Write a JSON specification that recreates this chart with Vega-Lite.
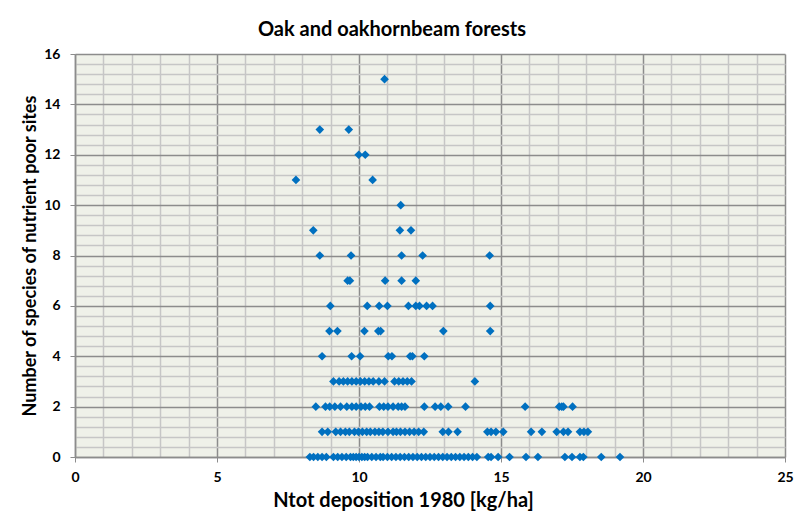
{
  "$schema": "https://vega.github.io/schema/vega-lite/v6.json",
  "width": 710,
  "height": 403,
  "autosize": {"type": "none"},
  "padding": {"left": 75, "top": 54, "right": 25, "bottom": 55},
  "background": "white",
  "title": {
    "text": "Oak and oakhornbeam forests",
    "font": "Lato",
    "fontSize": 20,
    "fontWeight": "bold",
    "color": "#000000",
    "anchor": "middle",
    "dx": -38,
    "offset": 7
  },
  "config": {
    "view": {"fill": "#eff1e9", "stroke": null},
    "axis": {"labelFont": "Lato", "titleFont": "Lato", "labelColor": "#000", "titleColor": "#000"}
  },
  "data": {
    "values": [
      {"dep": 10.9, "n": 15},
      {"dep": 8.62, "n": 13}, {"dep": 9.64, "n": 13},
      {"dep": 9.99, "n": 12}, {"dep": 10.22, "n": 12},
      {"dep": 7.78, "n": 11}, {"dep": 10.48, "n": 11},
      {"dep": 11.47, "n": 10},
      {"dep": 8.39, "n": 9}, {"dep": 11.44, "n": 9}, {"dep": 11.83, "n": 9},
      {"dep": 8.62, "n": 8}, {"dep": 9.72, "n": 8}, {"dep": 11.5, "n": 8}, {"dep": 12.24, "n": 8}, {"dep": 14.6, "n": 8},
      {"dep": 9.6, "n": 7}, {"dep": 9.68, "n": 7}, {"dep": 10.92, "n": 7}, {"dep": 11.5, "n": 7}, {"dep": 12.0, "n": 7},
      {"dep": 8.99, "n": 6}, {"dep": 10.29, "n": 6}, {"dep": 10.71, "n": 6}, {"dep": 11.0, "n": 6}, {"dep": 11.74, "n": 6}, {"dep": 12.0, "n": 6}, {"dep": 12.13, "n": 6}, {"dep": 12.38, "n": 6}, {"dep": 12.59, "n": 6}, {"dep": 14.62, "n": 6},
      {"dep": 8.96, "n": 5}, {"dep": 9.24, "n": 5}, {"dep": 10.19, "n": 5}, {"dep": 10.68, "n": 5}, {"dep": 10.76, "n": 5}, {"dep": 12.97, "n": 5}, {"dep": 14.62, "n": 5},
      {"dep": 8.7, "n": 4}, {"dep": 9.74, "n": 4}, {"dep": 10.04, "n": 4}, {"dep": 11.03, "n": 4}, {"dep": 11.16, "n": 4}, {"dep": 11.8, "n": 4}, {"dep": 11.88, "n": 4}, {"dep": 12.3, "n": 4},
      {"dep": 9.1, "n": 3}, {"dep": 9.3, "n": 3}, {"dep": 9.45, "n": 3}, {"dep": 9.6, "n": 3}, {"dep": 9.75, "n": 3}, {"dep": 9.9, "n": 3}, {"dep": 10.05, "n": 3}, {"dep": 10.2, "n": 3}, {"dep": 10.35, "n": 3}, {"dep": 10.5, "n": 3}, {"dep": 10.7, "n": 3}, {"dep": 10.9, "n": 3}, {"dep": 11.25, "n": 3}, {"dep": 11.4, "n": 3}, {"dep": 11.55, "n": 3}, {"dep": 11.7, "n": 3}, {"dep": 11.85, "n": 3}, {"dep": 14.08, "n": 3},
      {"dep": 8.48, "n": 2}, {"dep": 8.82, "n": 2}, {"dep": 8.97, "n": 2}, {"dep": 9.15, "n": 2}, {"dep": 9.35, "n": 2}, {"dep": 9.57, "n": 2}, {"dep": 9.75, "n": 2}, {"dep": 9.9, "n": 2}, {"dep": 10.07, "n": 2}, {"dep": 10.22, "n": 2}, {"dep": 10.37, "n": 2}, {"dep": 10.72, "n": 2}, {"dep": 10.87, "n": 2}, {"dep": 11.02, "n": 2}, {"dep": 11.2, "n": 2}, {"dep": 11.38, "n": 2}, {"dep": 11.5, "n": 2}, {"dep": 11.62, "n": 2}, {"dep": 12.3, "n": 2}, {"dep": 12.68, "n": 2}, {"dep": 12.88, "n": 2}, {"dep": 13.14, "n": 2}, {"dep": 13.75, "n": 2}, {"dep": 15.85, "n": 2}, {"dep": 17.05, "n": 2}, {"dep": 17.14, "n": 2}, {"dep": 17.2, "n": 2}, {"dep": 17.52, "n": 2},
      {"dep": 8.7, "n": 1}, {"dep": 8.9, "n": 1}, {"dep": 9.18, "n": 1}, {"dep": 9.35, "n": 1}, {"dep": 9.52, "n": 1}, {"dep": 9.66, "n": 1}, {"dep": 9.84, "n": 1}, {"dep": 9.98, "n": 1}, {"dep": 10.12, "n": 1}, {"dep": 10.27, "n": 1}, {"dep": 10.4, "n": 1}, {"dep": 10.56, "n": 1}, {"dep": 10.7, "n": 1}, {"dep": 10.84, "n": 1}, {"dep": 11.02, "n": 1}, {"dep": 11.2, "n": 1}, {"dep": 11.32, "n": 1}, {"dep": 11.46, "n": 1}, {"dep": 11.62, "n": 1}, {"dep": 11.78, "n": 1}, {"dep": 11.94, "n": 1}, {"dep": 12.1, "n": 1}, {"dep": 12.28, "n": 1}, {"dep": 12.95, "n": 1}, {"dep": 13.15, "n": 1}, {"dep": 13.47, "n": 1}, {"dep": 14.52, "n": 1}, {"dep": 14.65, "n": 1}, {"dep": 14.82, "n": 1}, {"dep": 15.08, "n": 1}, {"dep": 16.06, "n": 1}, {"dep": 16.44, "n": 1}, {"dep": 16.96, "n": 1}, {"dep": 17.2, "n": 1}, {"dep": 17.36, "n": 1}, {"dep": 17.78, "n": 1}, {"dep": 17.92, "n": 1}, {"dep": 18.06, "n": 1},
      {"dep": 8.27, "n": 0}, {"dep": 8.4, "n": 0}, {"dep": 8.55, "n": 0}, {"dep": 8.7, "n": 0}, {"dep": 8.85, "n": 0}, {"dep": 9.1, "n": 0}, {"dep": 9.25, "n": 0}, {"dep": 9.4, "n": 0}, {"dep": 9.55, "n": 0}, {"dep": 9.7, "n": 0}, {"dep": 9.8, "n": 0}, {"dep": 9.9, "n": 0}, {"dep": 10.0, "n": 0}, {"dep": 10.1, "n": 0}, {"dep": 10.2, "n": 0}, {"dep": 10.3, "n": 0}, {"dep": 10.45, "n": 0}, {"dep": 10.6, "n": 0}, {"dep": 10.75, "n": 0}, {"dep": 10.85, "n": 0}, {"dep": 11.0, "n": 0}, {"dep": 11.15, "n": 0}, {"dep": 11.3, "n": 0}, {"dep": 11.45, "n": 0}, {"dep": 11.6, "n": 0}, {"dep": 11.75, "n": 0}, {"dep": 11.9, "n": 0}, {"dep": 12.05, "n": 0}, {"dep": 12.2, "n": 0}, {"dep": 12.35, "n": 0}, {"dep": 12.5, "n": 0}, {"dep": 12.65, "n": 0}, {"dep": 12.8, "n": 0}, {"dep": 12.95, "n": 0}, {"dep": 13.1, "n": 0}, {"dep": 13.25, "n": 0}, {"dep": 13.4, "n": 0}, {"dep": 13.55, "n": 0}, {"dep": 13.7, "n": 0}, {"dep": 13.85, "n": 0}, {"dep": 14.0, "n": 0}, {"dep": 14.15, "n": 0}, {"dep": 14.55, "n": 0}, {"dep": 14.65, "n": 0}, {"dep": 14.9, "n": 0}, {"dep": 15.3, "n": 0}, {"dep": 15.88, "n": 0}, {"dep": 16.3, "n": 0}, {"dep": 17.25, "n": 0}, {"dep": 17.5, "n": 0}, {"dep": 17.78, "n": 0}, {"dep": 17.9, "n": 0}, {"dep": 18.53, "n": 0}, {"dep": 19.19, "n": 0}
    ]
  },
  "mark": {"type": "point", "shape": "diamond", "filled": true, "color": "#0070c0", "opacity": 1, "size": 75},
  "encoding": {
    "x": {
      "field": "dep",
      "type": "quantitative",
      "scale": {"domain": [0, 25], "nice": false, "zero": true},
      "axis": {
        "title": "Ntot deposition 1980 [kg/ha]",
        "titleFontSize": 20,
        "titleFontWeight": "bold",
        "titleX": 328,
        "titlePadding": 6,
        "values": [0,1,2,3,4,5,6,7,8,9,10,11,12,13,14,15,16,17,18,19,20,21,22,23,24,25],
        "labelExpr": "datum.value % 5 === 0 ? format(datum.value, 'd') : ''",
        "labelFontSize": 14,
        "labelFontWeight": "bold",
        "labelPadding": 8,
        "labelFlush": false,
        "grid": true,
        "gridColor": {"condition": {"test": "datum.value % 5 === 0", "value": "#8c8c8c"}, "value": "#c6c6c6"},
        "gridWidth": 1.5,
        "tickSize": 5,
        "tickColor": {"condition": {"test": "datum.value % 5 === 0", "value": "#8c8c8c"}, "value": "transparent"},
        "domainColor": "#8c8c8c",
        "domainWidth": 1.5
      }
    },
    "y": {
      "field": "n",
      "type": "quantitative",
      "scale": {"domain": [0, 16], "nice": false},
      "axis": {
        "title": "Number of species of nutrient poor sites",
        "titleFontSize": 18,
        "titleFontWeight": "bold",
        "titlePadding": 4,
        "values": [0,0.4,0.8,1.2,1.6,2,2.4,2.8,3.2,3.6,4,4.4,4.8,5.2,5.6,6,6.4,6.8,7.2,7.6,8,8.4,8.8,9.2,9.6,10,10.4,10.8,11.2,11.6,12,12.4,12.8,13.2,13.6,14,14.4,14.8,15.2,15.6,16],
        "labelExpr": "datum.value % 2 === 0 ? format(datum.value, 'd') : ''",
        "labelFontSize": 14,
        "labelFontWeight": "bold",
        "labelPadding": 10,
        "labelFlush": false,
        "grid": true,
        "gridColor": {"condition": {"test": "datum.value % 2 === 0", "value": "#8c8c8c"}, "value": "#c6c6c6"},
        "gridWidth": 1.5,
        "tickSize": 5,
        "tickColor": {"condition": {"test": "datum.value % 2 === 0", "value": "#8c8c8c"}, "value": "transparent"},
        "domainColor": "#8c8c8c",
        "domainWidth": 1.5
      }
    }
  }
}
